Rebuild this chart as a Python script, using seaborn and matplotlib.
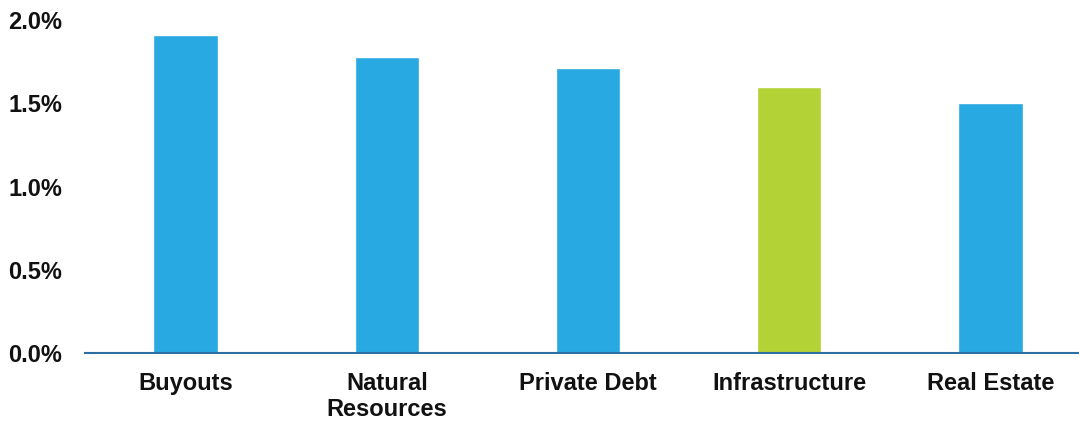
import matplotlib
matplotlib.use("Agg")
import matplotlib.pyplot as plt
import seaborn as sns
import pandas as pd
from matplotlib.ticker import FuncFormatter

categories = ["Buyouts", "Natural\nResources", "Private Debt", "Infrastructure", "Real Estate"]
values = [1.91, 1.78, 1.71, 1.60, 1.50]
bar_colors = ["#29a9e1", "#29a9e1", "#29a9e1", "#b2d235", "#29a9e1"]

sns.set_style("white")
plt.rcParams['font.family'] = ['Liberation Sans', 'DejaVu Sans']

df = pd.DataFrame({"cat": categories, "val": values})

fig = plt.figure(figsize=(10.79, 4.23), dpi=100)
ax = fig.add_axes([85 / 1079, 70 / 423, 1 - 85 / 1079, 333 / 423])

sns.barplot(data=df, x="cat", y="val", hue="cat", palette=bar_colors,
            width=0.32, legend=False, ax=ax, saturation=1)

ax.set_ylim(0, 2.0)
ax.set_xlim(-0.5, 4.44)
ax.set_yticks([0, 0.5, 1.0, 1.5, 2.0])
ax.yaxis.set_major_formatter(FuncFormatter(lambda v, p: f"{v:.1f}%"))
ax.set_xlabel("")
ax.set_ylabel("")

for s in ["top", "right", "left"]:
    ax.spines[s].set_visible(False)
ax.spines["bottom"].set_color("#2e6fa3")
ax.spines["bottom"].set_linewidth(1.5)
ax.tick_params(axis="both", length=0, labelsize=17)
ax.tick_params(axis="x", pad=14)
ax.tick_params(axis="y", pad=16.5)
for lbl in ax.get_xticklabels() + ax.get_yticklabels():
    lbl.set_fontweight("bold")
    lbl.set_color("#111111")
for lbl in ax.get_xticklabels():
    lbl.set_verticalalignment("top")
    lbl.set_linespacing(1.15)

fig.savefig("out.png", dpi=100)
